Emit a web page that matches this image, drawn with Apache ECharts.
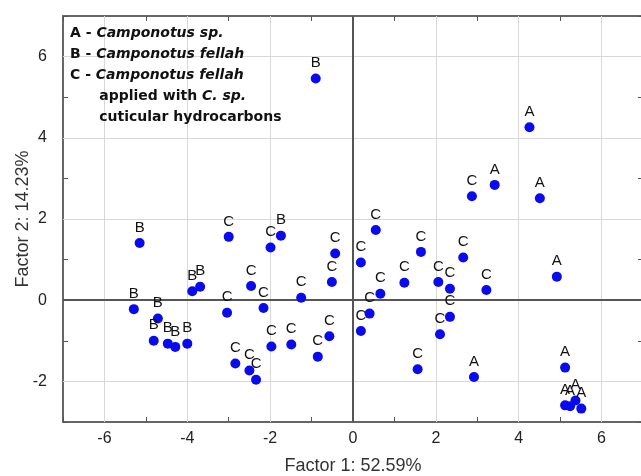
<!DOCTYPE html>
<html>
<head>
<meta charset="utf-8">
<script src="https://cdn.jsdelivr.net/npm/echarts@6/dist/echarts.min.js"></script>
<style>
  html, body { margin: 0; padding: 0; background: #fff; }
  #chart { width: 641px; height: 476px; }
</style>
</head>
<body>
<div id="chart"></div>
<script>
// group A - Camponotus sp.
var aX = [4.26, 3.42, 4.51, 4.92, 2.92, 5.12, 5.12, 5.24, 5.37, 5.51];
var aY = [4.26, 2.84, 2.51, 0.58, -1.89, -1.66, -2.59, -2.61, -2.47, -2.67];
// group B - Camponotus fellah
var bX = [-0.90, -5.15, -1.74, -3.88, -3.69, -5.29, -4.71, -4.81, -4.47, -4.29, -4.00];
var bY = [5.46, 1.41, 1.59, 0.22, 0.33, -0.22, -0.45, -1.00, -1.07, -1.15, -1.07];
// group C - C. fellah applied with C. sp. hydrocarbons
var cX = [2.87, -3.00, -1.99, -0.43, -0.51, -2.46, -2.16, -1.25, -3.04, -1.97, -1.49, -0.57, -0.85, -2.84, -2.50, -2.34,
          0.55, 0.19, 1.64, 2.66, 1.24, 0.66, 2.06, 2.34, 3.22, 0.40, 0.19, 2.34, 2.10, 1.56];
var cY = [2.56, 1.56, 1.30, 1.15, 0.45, 0.35, -0.19, 0.06, -0.31, -1.14, -1.09, -0.89, -1.39, -1.56, -1.73, -1.96,
          1.73, 0.93, 1.19, 1.05, 0.43, 0.16, 0.45, 0.28, 0.25, -0.33, -0.76, -0.41, -0.84, -1.70];

var xGrid = [-6, -4, -2, 2, 4, 6];
var yGrid = [-2, 2, 4, 6];

function pts(xs, ys) {
    return xs.map(function (x, i) { return [x, ys[i]]; });
}

function group(letter, xs, ys) {
    return {
        type: 'scatter',
        name: letter,
        data: pts(xs, ys),
        symbolSize: 10,
        itemStyle: {color: '#0a0aee', opacity: 1},
        label: {
            show: true, position: 'top', distance: 3,
            formatter: letter,
            color: '#111', fontSize: 15, fontFamily: 'Liberation Sans'
        },
        z: 5
    };
}

var lines = [];
xGrid.forEach(function (v) { lines.push({xAxis: v}); });
yGrid.forEach(function (v) { lines.push({yAxis: v}); });

var chart = echarts.init(document.getElementById('chart'));
var tick = {show: true, inside: true, length: 5, lineStyle: {color: '#555', width: 1}};
var evenOnly = function (v) { return v % 2 === 0 ? String(v) : ''; };
var bold = {fontSize: 14, fontWeight: 'bold', fontFamily: 'DejaVu Sans', fill: '#111', lineHeight: 21};
var boldIt = {fontSize: 14, fontWeight: 'bold', fontStyle: 'italic', fontFamily: 'DejaVu Sans', fill: '#111', lineHeight: 21};

var option = {
    animation: false,
    textStyle: {fontFamily: 'Liberation Sans'},
    grid: {left: 63, top: 16, width: 580, height: 406, containLabel: false, outerBoundsMode: 'none'},
    xAxis: [{
        type: 'value', min: -7, max: 7, interval: 1, position: 'bottom',
        name: 'Factor 1: 52.59%', nameLocation: 'middle', nameGap: 35, nameMoveOverlap: false,
        nameTextStyle: {fontSize: 18, color: '#333', fontFamily: 'Liberation Sans'},
        axisLine: {onZero: false, lineStyle: {color: '#666', width: 2}},
        axisTick: tick,
        axisLabel: {formatter: evenOnly, fontSize: 16, color: '#222', margin: 9},
        splitLine: {show: false}
    }, {
        type: 'value', min: -7, max: 7, interval: 1, position: 'top',
        axisLine: {onZero: false, lineStyle: {color: '#666', width: 2}},
        axisTick: tick, axisLabel: {show: false}, splitLine: {show: false}
    }],
    yAxis: [{
        type: 'value', min: -3, max: 7, interval: 1, position: 'left',
        name: 'Factor 2: 14.23%', nameLocation: 'middle', nameGap: 31, nameMoveOverlap: false,
        nameTextStyle: {fontSize: 18, color: '#333', fontFamily: 'Liberation Sans'},
        axisLine: {show: true, onZero: false, lineStyle: {color: '#666', width: 2}},
        axisTick: tick,
        axisLabel: {formatter: evenOnly, fontSize: 16, color: '#222', margin: 16},
        splitLine: {show: false}
    }, {
        type: 'value', min: -3, max: 7, interval: 1, position: 'right',
        axisLine: {show: true, onZero: false, lineStyle: {color: '#666', width: 2}},
        axisTick: tick, axisLabel: {show: false}, splitLine: {show: false}
    }],
    series: [
        {
            type: 'scatter', data: [], silent: true,
            markLine: {
                silent: true, symbol: 'none', label: {show: false},
                lineStyle: {color: '#d8d8d8', width: 1, type: 'solid'},
                data: lines, z: 1
            }
        },
        {
            type: 'scatter', data: [], silent: true,
            markLine: {
                silent: true, symbol: 'none', label: {show: false},
                lineStyle: {color: '#555', width: 2, type: 'solid'},
                data: [{xAxis: 0}, {yAxis: 0}], z: 2
            }
        },
        group('A', aX, aY),
        group('B', bX, bY),
        group('C', cX, cY)
    ],
    graphic: [{
        type: 'text', left: 70, top: 26, z: 10,
        style: {
            text: '{r|A - }{i|Camponotus sp.}\n{r|B - }{i|Camponotus fellah}\n{r|C - }{i|Camponotus fellah}\n'
                + '{r|      applied with }{i|C. sp.}\n{r|      cuticular hydrocarbons}',
            rich: {r: bold, i: boldIt}
        }
    }]
};
chart.setOption(option);
</script>
</body>
</html>
